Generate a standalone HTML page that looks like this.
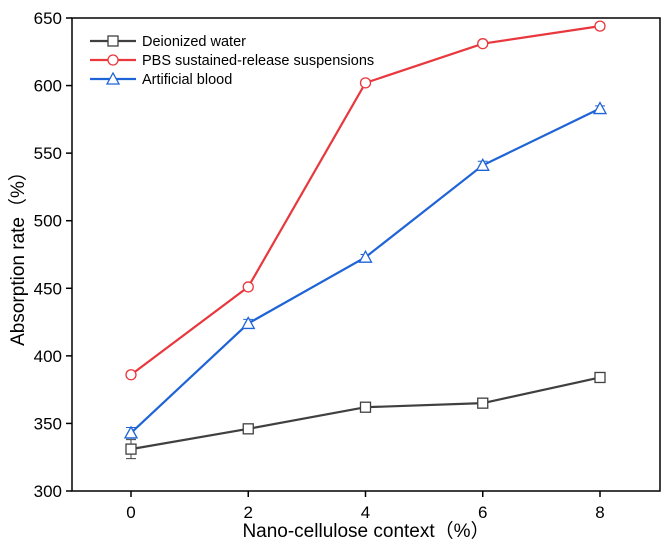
<!DOCTYPE html>
<html><head><meta charset="utf-8"><style>body{margin:0;background:#fff}svg{display:block;font-family:"Liberation Sans","Noto Sans CJK SC",sans-serif}</style></head>
<body>
<svg id="c" width="669" height="547"></svg>
<script>
const xCats=[0,2,4,6,8];
const yTicks=[300,350,400,450,500,550,600,650];
const deionized=[331,346,362,365,384];
const deionizedErr=[7,3,2,2,2];
const pbs=[386,451,602,631,644];
const pbsErr=[2,2,2,2,2];
const blood=[343,424,473,541,583];
const bloodErr=[4,3,2,3,2];
const NS='http://www.w3.org/2000/svg';
const svg=document.getElementById('c');
const L=72,R=660,T=18,B=491;
const xs=v=>131+v*(600-131)/8;
const ys=v=>B-(v-300)*(B-T)/350;
function el(t,a,p){const e=document.createElementNS(NS,t);for(const k in a)e.setAttribute(k,a[k]);(p||svg).appendChild(e);return e;}
let frame=el('rect',{x:L,y:T,width:R-L,height:B-T,fill:'none',stroke:'#000','stroke-width':1.5});


xCats.forEach(v=>{
 let t=el('line',{x1:xs(v),x2:xs(v),y1:B,y2:B+6,stroke:'#000','stroke-width':1.5});
 
 
 let l=el('text',{x:xs(v),y:B+27,'text-anchor':'middle','font-size':17});l.textContent=v;
 
 
});
yTicks.forEach(v=>{
 let t=el('line',{x1:L-6,x2:L,y1:ys(v),y2:ys(v),stroke:'#000','stroke-width':1.5});
 
 
 let l=el('text',{x:L-10,y:ys(v)+6,'text-anchor':'end','font-size':17});l.textContent=v;
 
 
});
let xt=el('text',{x:366,y:537,'text-anchor':'middle','font-size':19});xt.textContent='Nano-cellulose context（%）';


let yt=el('text',{x:0,y:0,'text-anchor':'middle','font-size':19,transform:'translate(24,254) rotate(-90)'});yt.textContent='Absorption rate（%）';


function marker(shape,x,y,col,g){
 if(shape==='sq')return el('rect',{x:x-5,y:y-5,width:10,height:10,fill:'#fff',stroke:col,'stroke-width':1.3},g);
 if(shape==='ci')return el('circle',{cx:x,cy:y,r:5,fill:'#fff',stroke:col,'stroke-width':1.3},g);
 return el('polygon',{points:`${x},${y-6} ${x-6},${y+5} ${x+6},${y+5}`,fill:'#fff',stroke:col,'stroke-width':1.3},g);
}
const series=[[deionized,deionizedErr,'#404040','sq','deionized-water'],[pbs,pbsErr,'#e8383d','ci','pbs-suspensions'],[blood,bloodErr,'#1f64d6','tr','artificial-blood']];
series.forEach(([d,e,col,sh,nm])=>{
 let g=el('g',{});
 
 
 let p=el('polyline',{points:d.map((v,i)=>xs(xCats[i])+','+ys(v)).join(' '),fill:'none',stroke:col,'stroke-width':2.2},g);
 
 
 d.forEach((v,i)=>{
  const x=xs(xCats[i]);
  let eb=el('path',{d:`M${x},${ys(v+e[i])}V${ys(v-e[i])}M${x-5},${ys(v+e[i])}h10M${x-5},${ys(v-e[i])}h10`,stroke:col,'stroke-width':1,fill:'none'},g);
  
  
  let m=marker(sh,x,ys(v),col,g);
  
  
 });
});
const leg=[['Deionized water','#404040','sq'],['PBS sustained-release suspensions','#e8383d','ci'],['Artificial blood','#1f64d6','tr']];
leg.forEach(([txt,col,sh],i)=>{
 const y=41+i*19;
 let g=el('g',{});
 
 
 el('line',{x1:90,x2:136,y1:y,y2:y,stroke:col,'stroke-width':2.2},g);
 marker(sh,113,y,col,g);
 let t=el('text',{x:142,y:y+5,'font-size':14.5},g);t.textContent=txt;
});
</script>
</body></html>
